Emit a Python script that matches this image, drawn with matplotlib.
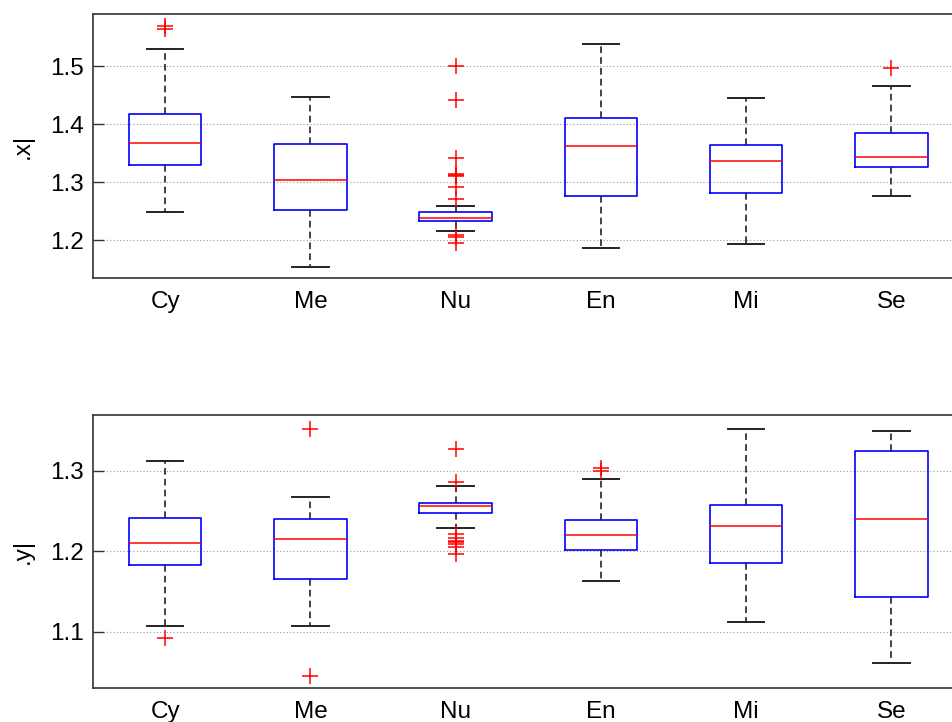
import matplotlib
matplotlib.use("Agg")
import matplotlib.pyplot as plt

plt.rcParams['font.family'] = ['Liberation Sans', 'DejaVu Sans']

# categories
labels = ['Cy', 'Me', 'Nu', 'En', 'Mi', 'Se']

# top panel (|x|): whisker low, q1, median, q3, whisker high, outliers
x_whislo = [1.248, 1.153, 1.216, 1.186, 1.193, 1.276]
x_q1     = [1.329, 1.252, 1.233, 1.276, 1.281, 1.326]
x_med    = [1.367, 1.303, 1.238, 1.362, 1.337, 1.343]
x_q3     = [1.417, 1.366, 1.248, 1.4115, 1.364, 1.385]
x_whishi = [1.529, 1.447, 1.259, 1.538, 1.446, 1.466]
x_fliers = [[1.569, 1.564], [],
            [1.5005, 1.441, 1.341, 1.314, 1.312, 1.310, 1.291, 1.271, 1.208, 1.206, 1.195],
            [], [], [1.497]]

# bottom panel (|y|)
y_whislo = [1.108, 1.108, 1.229, 1.163, 1.112, 1.062]
y_q1     = [1.183, 1.166, 1.247, 1.202, 1.185, 1.144]
y_med    = [1.210, 1.215, 1.256, 1.220, 1.232, 1.240]
y_q3     = [1.241, 1.240, 1.260, 1.239, 1.258, 1.324]
y_whishi = [1.3124, 1.267, 1.281, 1.290, 1.352, 1.349]
y_fliers = [[1.093], [1.352, 1.045],
            [1.327, 1.286, 1.222, 1.216, 1.213, 1.211, 1.209, 1.205, 1.197],
            [1.303, 1.299], [], []]


def stats(lo, q1, med, q3, hi, fl):
    out = []
    for i in range(len(lo)):
        out.append({'whislo': lo[i], 'q1': q1[i], 'med': med[i], 'q3': q3[i],
                    'whishi': hi[i], 'fliers': fl[i], 'label': labels[i]})
    return out


fig = plt.figure(figsize=(9.52, 7.22), dpi=100)
ax1 = fig.add_axes([92.5/952, (722-278.3)/722, 871.5/952, 264.3/722])
ax2 = fig.add_axes([92.5/952, (722-688.3)/722, 871.5/952, 273.3/722])

panels = [(ax1, stats(x_whislo, x_q1, x_med, x_q3, x_whishi, x_fliers), '.x|', (1.1339, 1.5903), [1.2, 1.3, 1.4, 1.5]),
          (ax2, stats(y_whislo, y_q1, y_med, y_q3, y_whishi, y_fliers), '.y|', (1.0302, 1.369), [1.1, 1.2, 1.3])]

for ax, st, lab, lim, ticks in panels:
    ax.bxp(st, positions=range(1, 7), widths=0.5, showfliers=True,
           boxprops=dict(color='#0000ff', linewidth=1.2),
           medianprops=dict(color='#ff0000', linewidth=1.1),
           whiskerprops=dict(color='#222222', linewidth=1.2, linestyle=(0, (4, 2.5))),
           capprops=dict(color='#222222', linewidth=1.4),
           flierprops=dict(marker='+', markeredgecolor='#ff0000', markersize=12, markeredgewidth=1.1,
                           linestyle='none'))
    ax.set_xlim(0.5, 6.5)
    ax.set_ylim(*lim)
    ax.set_yticks(ticks)
    ax.set_yticklabels([f'{t:.1f}' for t in ticks])
    ax.yaxis.grid(True, linestyle=(0, (1, 2)), color='#999999', linewidth=0.8)
    ax.set_axisbelow(True)
    ax.tick_params(axis='y', direction='in', length=8, width=1, color='#333333', labelsize=17.5, pad=6, right=True)
    ax.tick_params(axis='x', length=0, labelsize=17.5, pad=9)
    ax.set_ylabel(lab, fontsize=17.5, labelpad=12)
    for s in ax.spines.values():
        s.set_color('#333333')
        s.set_linewidth(1.2)

fig.savefig('out.png', dpi=100)
